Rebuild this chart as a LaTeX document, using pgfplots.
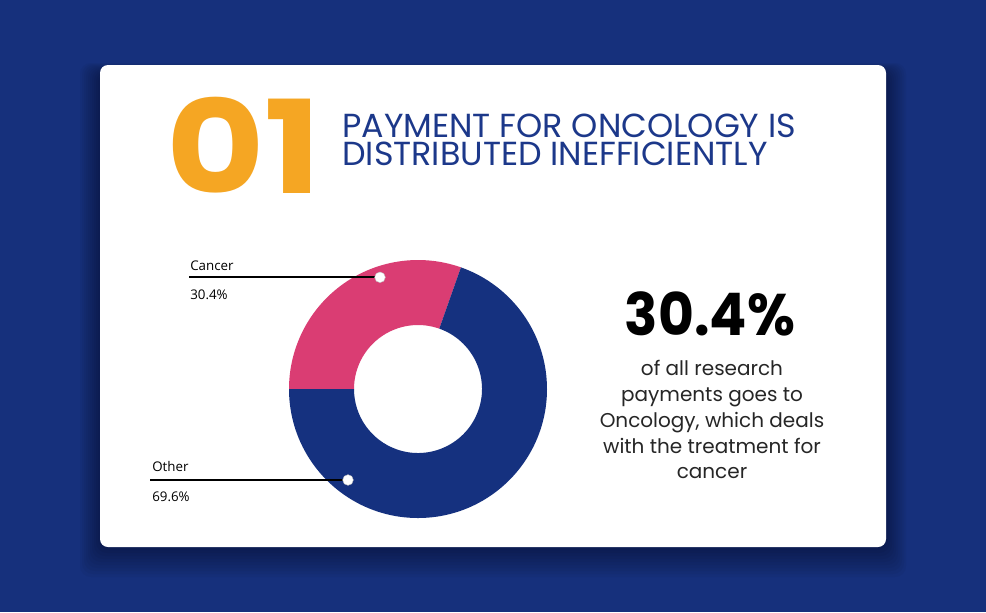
\documentclass[border=0pt]{standalone}
\usepackage{pgfplots}
\pgfplotsset{compat=1.18}
\usepackage{fontspec}
\setmainfont{Poppins}
\newfontfamily\labelfont{Open Sans}
\definecolor{bgblue}{HTML}{16307C}
\definecolor{navy}{HTML}{15317F}
\definecolor{pinkc}{HTML}{DA3D73}
\definecolor{orangec}{HTML}{F5A623}
\definecolor{titleblue}{HTML}{1C388A}
\begin{document}
\begin{tikzpicture}[x=0.75pt,y=-0.75pt]
\fill[bgblue] (0,0) rectangle (986,612);
\foreach \i in {1,...,10}{
  \fill[black,opacity=0.035,rounded corners=8pt] (100-2*\i,65-\i+8) rectangle (886+2*\i,547+3*\i);
}
\fill[white,rounded corners=6pt] (100,65) rectangle (886,547);
% title
\node[anchor=base west,inner sep=0pt,text=orangec,font=\fontsize{97}{97}\selectfont\bfseries] at (166,193) {\scalebox{1.17}[1]{01}};
\node[anchor=base west,inner sep=0pt,text depth=0pt,text height=18pt,text=titleblue,font=\fontsize{25}{25}\selectfont] at (342,137) {PAYMENT FOR ONCOLOGY IS};
\node[anchor=base west,inner sep=0pt,text depth=0pt,text height=18pt,text=titleblue,font=\fontsize{25}{25}\selectfont] at (342,165) {DISTRIBUTED INEFFICIENTLY};
% right text
\node[anchor=base,inner sep=0pt,font=\fontsize{44}{44}\selectfont\bfseries] at (710,335) {\scalebox{0.94}[1]{30.4\%}};
\foreach \t/\yy in {of all research/375,payments goes to/401,{Oncology, which deals}/427,with the treatment for/453,cancer/478}{
  \node[anchor=base,inner sep=0pt,text=black!85,font=\fontsize{15}{15}\selectfont] at (712,\yy) {\t};
}
% labels
\node[anchor=base west,inner sep=0pt,font=\labelfont\fontsize{10}{10}\selectfont] at (190,270) {Cancer};
\node[anchor=base west,inner sep=0pt,font=\labelfont\fontsize{10}{10}\selectfont] at (190,299) {30.4\%};
\node[anchor=base west,inner sep=0pt,font=\labelfont\fontsize{10}{10}\selectfont] at (152,471) {Other};
\node[anchor=base west,inner sep=0pt,font=\labelfont\fontsize{10}{10}\selectfont] at (152,501) {69.6\%};
\def\cancer{30.4}
\def\other{69.6}
\begin{axis}[at={(313.5pt,-291.75pt)},anchor=center,scale only axis,
  width=193.5pt,height=193.5pt,xmin=-129,xmax=129,ymin=-129,ymax=129,
  hide axis,clip=false]
\pgfmathsetmacro{\cs}{180-3.6*\cancer}
\fill[pinkc] (axis cs:{129*cos(\cs)},{129*sin(\cs)}) arc[start angle=\cs,end angle=180,radius=96.75pt]
  -- (axis cs:-64,0) arc[start angle=180,end angle=\cs,radius=48pt] -- cycle;
\pgfmathsetmacro{\oe}{180+3.6*\other}
\fill[navy] (axis cs:-129,0) arc[start angle=180,end angle=\oe,radius=96.75pt]
  -- (axis cs:{64*cos(\oe)},{64*sin(\oe)}) arc[start angle=\oe,end angle=180,radius=48pt] -- cycle;
\addplot[black,line width=1.5pt] coordinates {(-229,111.7) (-38,111.7)};
\addplot[black,line width=1.5pt] coordinates {(-268,-91) (-70,-91)};
\addplot[only marks,mark=*,mark size=4pt,mark options={fill=white,draw=black!25,line width=0.3pt}] coordinates {(-38,111.7) (-70,-91)};
\end{axis}
\end{tikzpicture}
\end{document}
